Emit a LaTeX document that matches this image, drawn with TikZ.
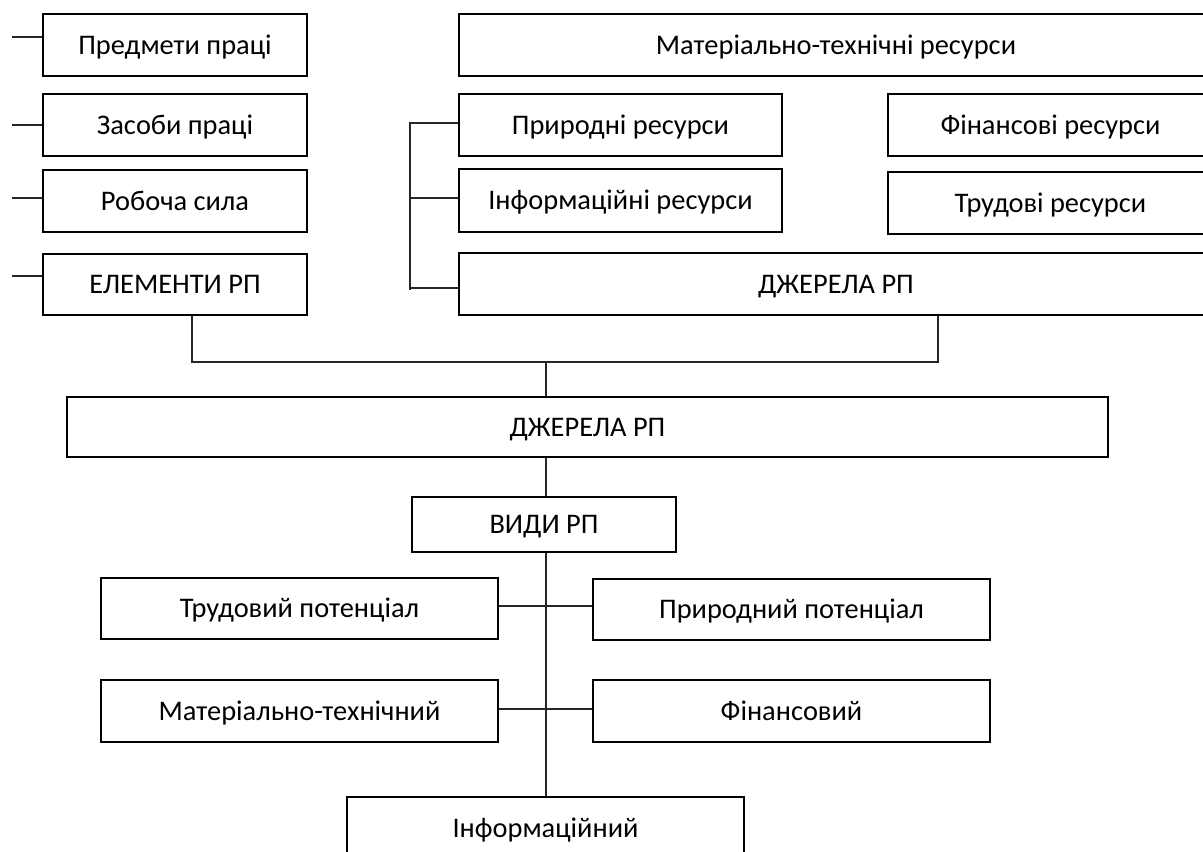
\documentclass[tikz,border=0pt]{standalone}
\usepackage{fontspec}
\setmainfont{Carlito}
\begin{document}
\begin{tikzpicture}[x=0.75pt,y=-0.75pt,
  bx/.style 2 args={draw, line width=1.8pt, inner sep=0pt, minimum width=#1*0.75pt, minimum height=#2*0.75pt, text height=13.7pt, text depth=0pt, font=\fontsize{21.3}{25}\selectfont},
  ln/.style={line width=0.8pt, black!85}]
\useasboundingbox (0,0) rectangle (1203,852);
\clip (0,0) rectangle (1203,852);
% left column
\node[bx={264}{62}] (P1) at (175,45) {Предмети праці};
\node[bx={264}{62}] (P2) at (175,125) {Засоби праці};
\node[bx={264}{62}] (P3) at (175,201) {Робоча сила};
\node[bx={264}{61}] (EL) at (175,284.5) {ЕЛЕМЕНТИ РП};
% right group
\node[bx={754}{62}] (MT) at (836,45) {Матеріально-технічні ресурси};
\node[bx={323}{62}] (PR) at (620.5,125) {Природні ресурси};
\node[bx={323}{63}] (IR) at (620.5,200.5) {Інформаційні ресурси};
\node[bx={325}{62}] (FR) at (1050.5,125) {Фінансові ресурси};
\node[bx={325}{62}] (TR) at (1050.5,203) {Трудові ресурси};
\node[bx={754}{62}] (DJ1) at (836,284) {ДЖЕРЕЛА РП};
% middle
\node[bx={1041}{60}] (DJ2) at (587.5,427) {ДЖЕРЕЛА РП};
\node[bx={264}{55}] (VD) at (544,524.5) {ВИДИ РП};
\node[bx={397}{61}] (TP) at (299.5,608.5) {Трудовий потенціал};
\node[bx={397}{61}] (PP) at (791.5,609.5) {Природний потенціал};
\node[bx={397}{62}] (MTP) at (299.5,711) {Матеріально-технічний};
\node[bx={397}{62}] (FP) at (791.5,711) {Фінансовий};
\node[bx={397}{63}] (IN) at (545.5,828.5) {Інформаційний};
% left stubs
\coordinate (l1) at (12,37);
\coordinate (l2) at (12,125);
\coordinate (l3) at (12,198);
\coordinate (l4) at (12,276);
\draw[ln] (l1) -- (l1 -| P1.west);
\draw[ln] (l2) -- (l2 -| P2.west);
\draw[ln] (l3) -- (l3 -| P3.west);
\draw[ln] (l4) -- (l4 -| EL.west);
% bracket
\coordinate (b1) at (410,123);
\coordinate (b2) at (410,198);
\coordinate (b3) at (410,290);
\coordinate (b4) at (410,288);
\draw[ln] (b1 -| PR.west) -- (b1) -- (b3);
\draw[ln] (b2) -- (b2 -| IR.west);
\draw[ln] (b4) -- (b4 -| DJ1.west);
% joins
\coordinate (ja) at (192,362);
\coordinate (jb) at (938,362);
\coordinate (jc) at (546,362);
\draw[ln] (ja |- EL.south) -- (ja) -- (jb) -- (jb |- DJ1.south);
\draw[ln] (jc) -- (jc |- DJ2.north);
\draw[ln] (jc |- DJ2.south) -- (jc |- VD.north);
\draw[ln] (jc |- VD.south) -- (jc |- IN.north);
\coordinate (h1) at (546,606);
\coordinate (h2) at (546,709);
\draw[ln] (h1 -| TP.east) -- (h1 -| PP.west);
\draw[ln] (h2 -| MTP.east) -- (h2 -| FP.west);
\end{tikzpicture}
\end{document}
